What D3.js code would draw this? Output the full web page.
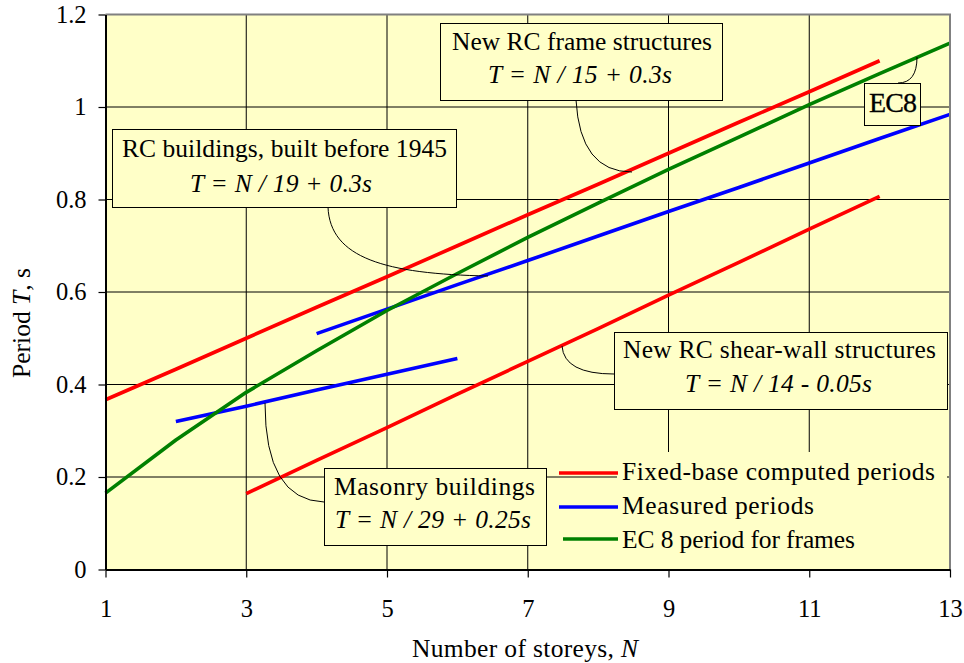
<!DOCTYPE html>
<html><head><meta charset="utf-8">
<script src="https://cdn.jsdelivr.net/npm/d3@7"></script>
<style>
body{margin:0;background:#fff}
text{font-family:"Liberation Serif","Times New Roman",serif;fill:#000}
</style></head>
<body><svg id="c" width="964" height="663"></svg>
<script>
// ---- data ----
const N_TICKS = [1, 3, 5, 7, 9, 11, 13];
const T_TICKS = [0, 0.2, 0.4, 0.6, 0.8, 1, 1.2];
const T_TICK_LABELS = ["0", "0.2", "0.4", "0.6", "0.8", "1", "1.2"];

const fixedFrameN = [1, 2, 3, 4, 5, 6, 7, 8, 9, 10, 11, 12];
const fixedFrameT = [0.367, 0.433, 0.50, 0.567, 0.633, 0.70, 0.767, 0.833, 0.90, 0.967, 1.033, 1.10];

const fixedWallN = [3, 4, 5, 6, 7, 8, 9, 10, 11, 12];
const fixedWallT = [0.164, 0.236, 0.307, 0.379, 0.45, 0.521, 0.593, 0.664, 0.736, 0.807];

const measuredRCN = [4, 5, 6, 7, 8, 9, 10, 11, 12, 13];
const measuredRCT = [0.51, 0.563, 0.616, 0.668, 0.721, 0.774, 0.826, 0.879, 0.932, 0.984];

const measuredMasN = [2, 3, 4, 5, 6];
const measuredMasT = [0.32, 0.353, 0.388, 0.422, 0.456];

const ec8N = [1, 2, 3, 4, 5, 6, 7, 8, 9, 10, 11, 12, 13];
const ec8T = [0.165, 0.28, 0.383, 0.473, 0.56, 0.64, 0.718, 0.792, 0.865, 0.935, 1.005, 1.072, 1.138];

const legendLabels = ["Fixed-base computed periods", "Measured periods", "EC 8 period for frames"];
const seriesColors = ["#ff0000", "#0000ff", "#008000"];

// ---- layout ----
const svg = d3.select("#c");
const X0 = 105.5, X1 = 950, Y0 = 569.5, Y1 = 14.5;
const x = d3.scaleLinear().domain([1, 13]).range([X0, X1]);
const y = d3.scaleLinear().domain([0, 1.2]).range([Y0, Y1]);
const BG = "#ffffc8";
const FS = 25.5;

function fit(sel, target) {
  const node = sel.node();
  const n = sel.text().length;
  const len = node.getComputedTextLength();
  sel.attr("letter-spacing", ((target - len) / (n - 1)).toFixed(3));
}

svg.append("rect").attr("x", X0).attr("y", Y1).attr("width", X1 - X0).attr("height", Y0 - Y1).attr("fill", BG);

// gridlines
svg.append("g").selectAll("line").data(T_TICKS.filter(t => t > 0 && t < 1.2)).join("line")
  .attr("x1", X0).attr("x2", X1).attr("y1", d => y(d)).attr("y2", d => y(d))
  .attr("stroke", "#000").attr("stroke-width", 1);
svg.append("g").selectAll("line").data(N_TICKS.filter(t => t > 1 && t < 13)).join("line")
  .attr("y1", Y0).attr("y2", Y1).attr("x1", d => x(d)).attr("x2", d => x(d))
  .attr("stroke", "#000").attr("stroke-width", 1);

// legend background
svg.append("rect").attr("x", 617).attr("y", 452).attr("width", 330).attr("height", Y0 - 452).attr("fill", BG);

// series
const line = d3.line().x(d => x(d[0])).y(d => y(d[1]));
const zip = (a, b) => a.map((v, i) => [v, b[i]]);
const series = [
  [zip(fixedFrameN, fixedFrameT), seriesColors[0]],
  [zip(fixedWallN, fixedWallT), seriesColors[0]],
  [zip(measuredRCN, measuredRCT), seriesColors[1]],
  [zip(measuredMasN, measuredMasT), seriesColors[1]],
  [zip(ec8N, ec8T), seriesColors[2]]
];
svg.append("g").selectAll("path").data(series).join("path")
  .attr("d", d => line(d[0])).attr("fill", "none").attr("stroke", d => d[1])
  .attr("stroke-width", 3.6).attr("stroke-linejoin", "round").attr("stroke-linecap", "butt");

// callouts
const callouts = [
  "M576,100 Q580,172 632,172",
  "M328,207 C330,258 385,274 488,276",
  "M614,374 Q564,374 562,346",
  "M324,502 Q265,500 265,403",
  "M898,83 Q917,83 917,57"
];
svg.append("g").selectAll("path").data(callouts).join("path")
  .attr("d", d => d).attr("fill", "none").attr("stroke", "#000").attr("stroke-width", 1);

// annotation boxes
const boxes = [
  {x: 440, y: 23, w: 282, h: 77, lines: [
    {t: "New RC frame structures", x: 452, y: 50, w: 260, it: false},
    {t: "T = N / 15 + 0.3s", x: 488, y: 83, w: 184, it: true}]},
  {x: 112, y: 129, w: 344, h: 78, lines: [
    {t: "RC buildings, built before 1945", x: 122, y: 157, w: 325, it: false},
    {t: "T = N / 19 + 0.3s", x: 190, y: 192, w: 182, it: true}]},
  {x: 614, y: 332, w: 333, h: 77, lines: [
    {t: "New RC shear-wall structures", x: 623, y: 358, w: 313, it: false},
    {t: "T = N / 14 - 0.05s", x: 685, y: 392, w: 187, it: true}]},
  {x: 324, y: 468, w: 222, h: 77, lines: [
    {t: "Masonry buildings", x: 334, y: 495, w: 201, it: false},
    {t: "T = N / 29 + 0.25s", x: 335, y: 528, w: 196, it: true}]}
];
boxes.forEach(b => {
  svg.append("rect").attr("x", b.x + 0.5).attr("y", b.y + 0.5).attr("width", b.w).attr("height", b.h)
    .attr("fill", BG).attr("stroke", "#000").attr("stroke-width", 1);
  b.lines.forEach(l => {
    const t = svg.append("text").attr("x", l.x).attr("y", l.y).attr("font-size", FS)
      .attr("font-style", l.it ? "italic" : "normal").text(l.t);
    fit(t, l.w);
  });
});
// EC8 box
svg.append("rect").attr("x", 864.5).attr("y", 83.5).attr("width", 56).attr("height", 42)
  .attr("fill", BG).attr("stroke", "#000").attr("stroke-width", 1);
const ec = svg.append("text").attr("x", 869).attr("y", 112).attr("font-size", 28)
  .attr("stroke", "#000").attr("stroke-width", 0.3).text("EC8");
fit(ec, 48);

// legend
legendLabels.forEach((lab, i) => {
  const yy = [473, 507, 539][i];
  svg.append("line").attr("x1", i === 2 ? 563 : 559).attr("x2", 618).attr("y1", yy).attr("y2", yy)
    .attr("stroke", seriesColors[i]).attr("stroke-width", 3.6);
  const t = svg.append("text").attr("x", 622).attr("y", [480, 514, 548][i]).attr("font-size", FS).text(lab);
  fit(t, [313, 192, 233][i]);
});

// borders top/right
svg.append("path").attr("d", `M${X0},${Y1} H${X1} V${Y0}`).attr("fill", "none")
  .attr("stroke", "#808080").attr("stroke-width", 2);

// axes
const xAxis = d3.axisBottom(x).tickValues(N_TICKS).tickSize(8).tickPadding(22).tickSizeOuter(0).tickFormat(d3.format("d"));
const gx = svg.append("g").attr("transform", `translate(0,${Y0})`).call(xAxis);
const yAxis = d3.axisLeft(y).tickValues(T_TICKS).tickSize(7).tickPadding(12).tickSizeOuter(0)
  .tickFormat((d, i) => T_TICK_LABELS[i]);
const gy = svg.append("g").attr("transform", `translate(${X0},0)`).call(yAxis);
[gx, gy].forEach(g => {
  g.select(".domain").attr("stroke", "#000").attr("stroke-width", 2);
  g.selectAll(".tick line").attr("stroke", "#000").attr("stroke-width", 1.2);
  g.selectAll(".tick text").attr("font-size", 24.5).attr("font-family", "Liberation Serif, serif").attr("fill", "#000");
});

// axis titles
const xt = svg.append("text").attr("x", 412).attr("y", 657).attr("font-size", FS);
xt.append("tspan").text("Number of storeys, ");
xt.append("tspan").attr("font-style", "italic").text("N");
fit(xt, 226);

const yt = svg.append("text").attr("transform", "translate(30,378) rotate(-90)").attr("font-size", FS);
yt.append("tspan").text("Period ");
yt.append("tspan").attr("font-style", "italic").text("T");
yt.append("tspan").text(", s");
fit(yt, 110);
</script>
</body></html>
